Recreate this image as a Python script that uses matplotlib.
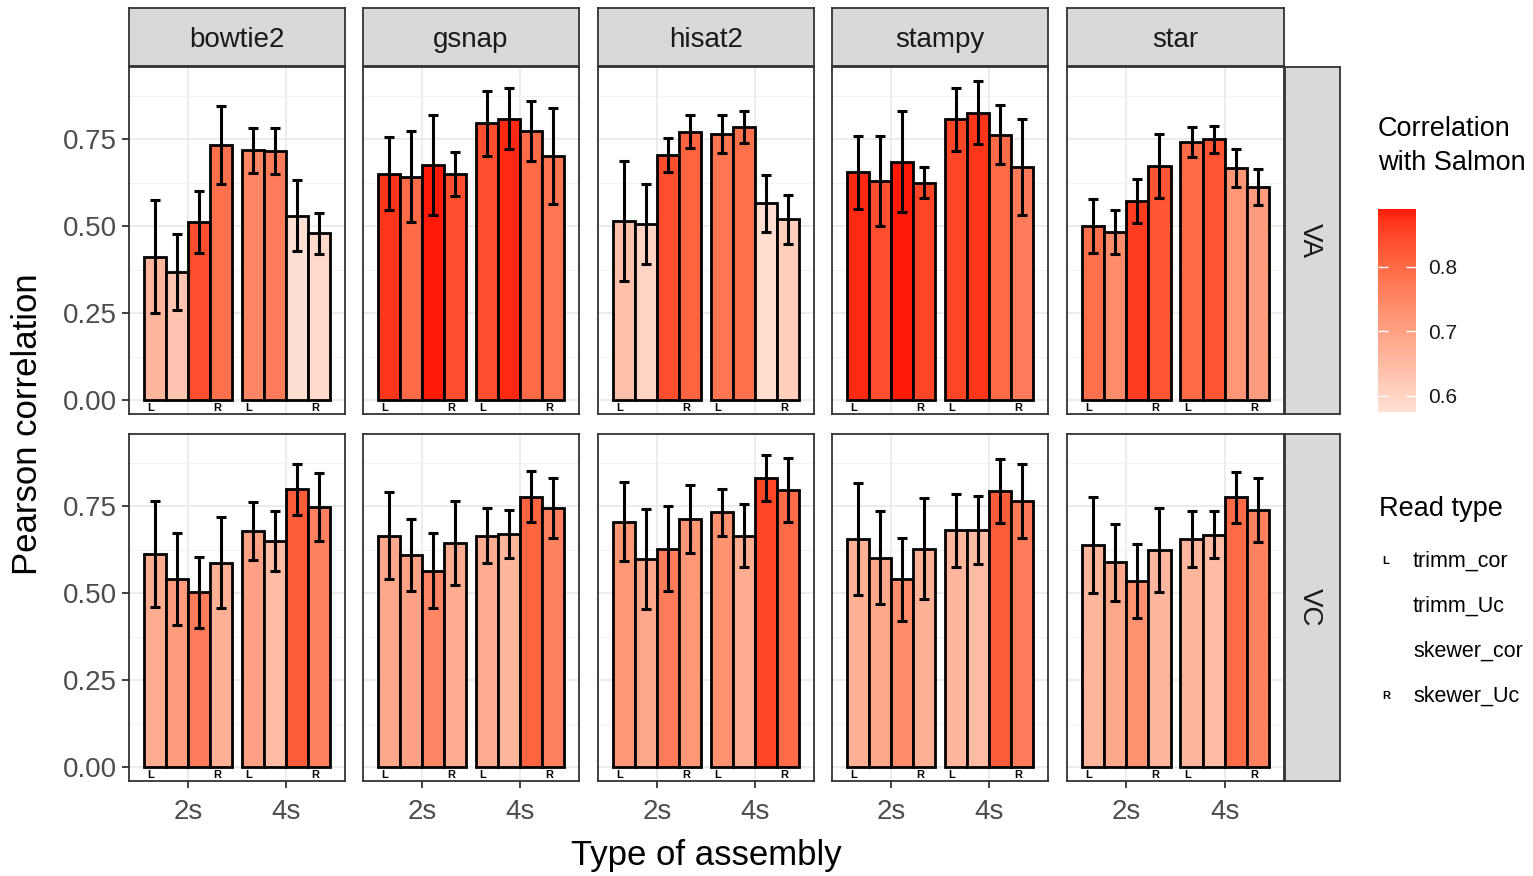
import numpy as np
import matplotlib
matplotlib.use('Agg')
import matplotlib.pyplot as plt
from matplotlib.colors import ListedColormap, Normalize, to_rgb
from matplotlib.cm import ScalarMappable

plt.rcParams['font.family'] = ['Liberation Sans', 'DejaVu Sans']

aligners = ['bowtie2', 'gsnap', 'hisat2', 'stampy', 'star']
assemblies = ['2s', '4s']
read_types = ['trimm_cor', 'trimm_Uc', 'skewer_cor', 'skewer_Uc']
read_marks = ['L', '', '', 'R']
conditions = ['VA', 'VC']

# mean pearson correlation, per aligner: 2s (4 read types) then 4s (4 read types)
va_mean = [
    [0.412, 0.369, 0.512, 0.733, 0.718, 0.716, 0.530, 0.479],
    [0.651, 0.642, 0.675, 0.649, 0.795, 0.809, 0.773, 0.701],
    [0.515, 0.506, 0.704, 0.771, 0.764, 0.785, 0.565, 0.519],
    [0.654, 0.629, 0.685, 0.625, 0.807, 0.826, 0.762, 0.670],
    [0.501, 0.482, 0.572, 0.673, 0.742, 0.749, 0.666, 0.613],
]
va_sd = [
    [0.163, 0.109, 0.089, 0.111, 0.065, 0.065, 0.101, 0.058],
    [0.104, 0.130, 0.143, 0.064, 0.093, 0.089, 0.085, 0.138],
    [0.173, 0.114, 0.048, 0.048, 0.055, 0.045, 0.083, 0.070],
    [0.104, 0.130, 0.145, 0.044, 0.091, 0.091, 0.085, 0.138],
    [0.077, 0.063, 0.063, 0.092, 0.044, 0.039, 0.055, 0.052],
]
vc_mean = [
    [0.612, 0.540, 0.502, 0.587, 0.679, 0.649, 0.798, 0.748],
    [0.665, 0.609, 0.564, 0.643, 0.664, 0.670, 0.777, 0.745],
    [0.705, 0.598, 0.628, 0.713, 0.732, 0.665, 0.831, 0.796],
    [0.655, 0.602, 0.539, 0.628, 0.681, 0.682, 0.793, 0.765],
    [0.638, 0.588, 0.534, 0.624, 0.655, 0.668, 0.775, 0.739],
]
vc_sd = [
    [0.153, 0.132, 0.102, 0.131, 0.084, 0.087, 0.073, 0.097],
    [0.125, 0.104, 0.108, 0.121, 0.079, 0.068, 0.073, 0.087],
    [0.113, 0.144, 0.122, 0.098, 0.067, 0.091, 0.067, 0.091],
    [0.160, 0.134, 0.119, 0.146, 0.105, 0.098, 0.092, 0.107],
    [0.138, 0.111, 0.107, 0.120, 0.080, 0.067, 0.074, 0.091],
]
# correlation with Salmon (fill colour)
va_salmon = [
    [0.66, 0.63, 0.84, 0.79, 0.75, 0.77, 0.575, 0.59],
    [0.87, 0.80, 0.89, 0.84, 0.84, 0.88, 0.80, 0.78],
    [0.64, 0.60, 0.84, 0.81, 0.78, 0.79, 0.58, 0.61],
    [0.88, 0.84, 0.89, 0.85, 0.85, 0.87, 0.80, 0.77],
    [0.79, 0.74, 0.86, 0.83, 0.80, 0.83, 0.72, 0.71],
]
vc_salmon = [
    [0.68, 0.71, 0.77, 0.67, 0.70, 0.65, 0.82, 0.76],
    [0.69, 0.70, 0.75, 0.68, 0.68, 0.66, 0.81, 0.76],
    [0.72, 0.69, 0.77, 0.72, 0.73, 0.68, 0.85, 0.80],
    [0.67, 0.69, 0.74, 0.67, 0.66, 0.65, 0.82, 0.77],
    [0.66, 0.69, 0.73, 0.66, 0.66, 0.65, 0.80, 0.76],
]

means = {'VA': np.array(va_mean), 'VC': np.array(vc_mean)}
sds = {'VA': np.array(va_sd), 'VC': np.array(vc_sd)}
salmon = {'VA': np.array(va_salmon), 'VC': np.array(vc_salmon)}


# gradient in Lab space, like ggplot's scale_fill_gradient
def srgb_to_lab(c):
    c = np.array(to_rgb(c))
    lin = np.where(c <= 0.04045, c / 12.92, ((c + 0.055) / 1.055) ** 2.4)
    M = np.array([[0.4124, 0.3576, 0.1805],
                  [0.2126, 0.7152, 0.0722],
                  [0.0193, 0.1192, 0.9505]])
    xyz = M @ lin / np.array([0.95047, 1.0, 1.08883])
    f = np.where(xyz > 0.008856, np.cbrt(xyz), 7.787 * xyz + 16 / 116)
    return np.array([116 * f[1] - 16, 500 * (f[0] - f[1]), 200 * (f[1] - f[2])])


def lab_to_srgb(lab):
    fy = (lab[0] + 16) / 116
    fx = fy + lab[1] / 500
    fz = fy - lab[2] / 200
    f = np.array([fx, fy, fz])
    xyz = np.where(f ** 3 > 0.008856, f ** 3, (f - 16 / 116) / 7.787)
    xyz = xyz * np.array([0.95047, 1.0, 1.08883])
    Minv = np.array([[3.2406, -1.5372, -0.4986],
                     [-0.9689, 1.8758, 0.0415],
                     [0.0557, -0.2040, 1.0570]])
    lin = Minv @ xyz
    c = np.where(lin <= 0.0031308, 12.92 * lin, 1.055 * np.clip(lin, 0, None) ** (1 / 2.4) - 0.055)
    return np.clip(c, 0, 1)


lo, hi = srgb_to_lab('#FEE0D3'), srgb_to_lab('#FF1A08')
cmap = ListedColormap([lab_to_srgb(lo + t * (hi - lo)) for t in np.linspace(0, 1, 256)])

all_sal = np.concatenate([salmon['VA'].ravel(), salmon['VC'].ravel()])
norm = Normalize(vmin=all_sal.min(), vmax=all_sal.max())

W, H = 1533, 876
fig = plt.figure(figsize=(W / 100, H / 100), dpi=100)


def rect(x0, y0, x1, y1):
    return [x0 / W, 1 - y1 / H, (x1 - x0) / W, (y1 - y0) / H]


cols = [(129, 345), (363, 579), (598, 814), (832, 1048), (1067, 1284)]
rows = [(67, 414), (434, 781)]
offsets = np.array([-0.3375, -0.1125, 0.1125, 0.3375])
bw = 0.225
grey = '#4D4D4D'
border = '#333333'

for r, cond in enumerate(conditions):
    for c, name in enumerate(aligners):
        x0, x1 = cols[c]
        y0, y1 = rows[r]
        ax = fig.add_axes(rect(x0, y0, x1, y1))
        ax.set_xlim(0.4, 2.6)
        ax.set_ylim(-0.04, 0.957)
        ax.set_yticks([0, 0.25, 0.5, 0.75])
        ax.set_yticks([0.125, 0.375, 0.625, 0.875], minor=True)
        ax.set_xticks([1, 2])
        ax.set_xticklabels(assemblies)
        ax.yaxis.set_major_formatter(matplotlib.ticker.FormatStrFormatter('%.2f'))
        ax.grid(which='major', color='#EBEBEB', lw=1.3, zorder=0)
        ax.grid(which='minor', axis='y', color='#F2F2F2', lw=0.8, zorder=0)
        ax.set_axisbelow(True)
        for s in ax.spines.values():
            s.set_color(border)
            s.set_linewidth(1.3)

        for g in range(2):
            xs = g + 1 + offsets
            m = means[cond][c, g * 4:(g + 1) * 4]
            e = sds[cond][c, g * 4:(g + 1) * 4]
            sv = salmon[cond][c, g * 4:(g + 1) * 4]
            ax.bar(xs, m, width=bw, color=cmap(norm(sv)), edgecolor='black',
                   linewidth=2.0, zorder=2)
            ax.errorbar(xs, m, yerr=e, fmt='none', ecolor='black', elinewidth=2.2,
                        capsize=3.8, capthick=2.2, zorder=3)
            for k in range(4):
                if read_marks[k]:
                    ax.text(xs[k] - 0.04, -0.022, read_marks[k], ha='center',
                            va='center', fontsize=8, fontweight='bold', zorder=4)

        ax.tick_params(axis='both', colors=border, labelcolor=grey,
                       labelsize=20, length=5, width=1.3)
        ax.tick_params(axis='x', pad=8)
        ax.tick_params(which='minor', length=0)
        if c > 0:
            ax.tick_params(axis='y', left=False, labelleft=False)
        if r == 0:
            ax.tick_params(axis='x', bottom=False, labelbottom=False)

        if r == 0:
            sax = fig.add_axes(rect(x0, 8, x1, 66))
            sax.set_facecolor('#D9D9D9')
            sax.set_xticks([])
            sax.set_yticks([])
            for s in sax.spines.values():
                s.set_color(border)
                s.set_linewidth(1.3)
            sax.text(0.5, 0.45, name, ha='center', va='center', fontsize=20,
                     color='#1A1A1A', transform=sax.transAxes)

    y0, y1 = rows[r]
    rax = fig.add_axes(rect(1285, y0, 1340, y1))
    rax.set_facecolor('#D9D9D9')
    rax.set_xticks([])
    rax.set_yticks([])
    for s in rax.spines.values():
        s.set_color(border)
        s.set_linewidth(1.3)
    rax.text(0.45, 0.5, cond, ha='center', va='center', fontsize=20,
             rotation=-90, color='#1A1A1A', transform=rax.transAxes)

fig.text(706 / W, 1 - 856 / H, 'Type of assembly', ha='center', va='center',
         fontsize=25)
fig.text(28 / W, 1 - 424 / H, 'Pearson correlation', ha='center', va='center',
         fontsize=25, rotation=90)

# colour legend
fig.text(1378 / W, 1 - 146 / H, 'Correlation\nwith Salmon', ha='left',
         va='center', fontsize=19.5, linespacing=1.35)
cax = fig.add_axes(rect(1378, 209, 1416, 412))
cb = fig.colorbar(ScalarMappable(norm=norm, cmap=cmap), cax=cax)
cb.outline.set_visible(False)
cb.set_ticks([0.6, 0.7, 0.8])
cb.set_ticklabels(['0.6', '0.7', '0.8'])
cax.tick_params(axis='y', direction='in', color='white', length=7, width=1,
                labelsize=15, labelcolor='#1A1A1A', pad=9, left=True, right=True)

# read type legend
fig.text(1379 / W, 1 - 509 / H, 'Read type', ha='left', va='center', fontsize=19.5)
for i, lab in enumerate(read_types):
    yy = 1 - (561 + 45 * i) / H
    if read_marks[i]:
        fig.text(1386 / W, yy, read_marks[i], ha='center', va='center',
                 fontsize=8, fontweight='bold')
    fig.text(1413 / W, yy, lab, ha='left', va='center', fontsize=15.5)

fig.savefig('out.png', dpi=100)
